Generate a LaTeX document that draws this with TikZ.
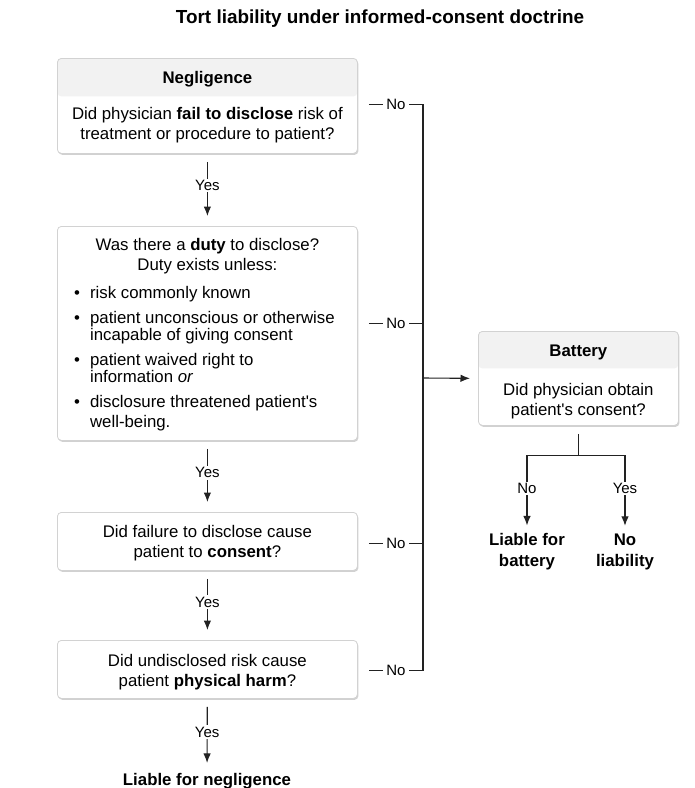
\documentclass[tikz,border=0pt]{standalone}
\usepackage{fontspec}
\setmainfont{Liberation Sans}
\usetikzlibrary{arrows.meta,calc,shadows}
\definecolor{linegray}{HTML}{222222}
\definecolor{edgegray}{HTML}{D2D2D2}
\definecolor{headgray}{HTML}{F2F2F2}
\tikzset{
card/.style={draw=edgegray, line width=0.8pt, fill=white, rounded corners=4pt,
  minimum width=300pt, inner sep=0pt,
  drop shadow={shadow xshift=1pt, shadow yshift=-1.5pt, opacity=0.18, fill=black}},
headcard/.style={card, path picture={
  \fill[headgray] (path picture bounding box.north west)
    rectangle ([yshift=-#1]path picture bounding box.north east);}},
qtext/.style={align=center, inner sep=0pt, font=\fontsize{16.8}{20}\selectfont},
htext/.style={inner sep=0pt, font=\fontsize{16.8}{20}\selectfont\bfseries},
result/.style={align=center, inner sep=0pt, font=\fontsize{16.8}{21}\selectfont\bfseries},
link/.style={draw=linegray, line width=1.1pt},
arrow/.style={link, -{Latex[length=9.5pt,width=7.5pt]}},
yes/.style={arrow, shorten <=8pt, shorten >=10pt},
lbl/.style={fill=white, inner xsep=3.5pt, inner ysep=1.5pt, font=\fontsize{15}{16}\selectfont}
}

\begin{document}
\begin{tikzpicture}[x=1pt,y=-1pt]
\useasboundingbox (0,0) rectangle (695,788);

\node[inner sep=0pt, font=\fontsize{18.9}{22}\selectfont\bfseries] (title) at (380,19)
  {Tort liability under informed-consent doctrine};

% negligence column
\node[headcard=38pt, minimum height=95pt, anchor=north west] (neg) at (57,58) {};
\node[htext] (negtitle) at ($(neg.north)+(0,21)$) {Negligence};
\node[qtext] (negq) at ($(neg.north)+(0,67)$)
  {Did physician \textbf{fail to disclose} risk of\\treatment or procedure to patient?};

\node[card, minimum height=214pt, anchor=north west] (duty) at (57,226) {};
\node[qtext] (dutyq) at ($(duty.north)+(0,30)$)
  {Was there a \textbf{duty} to disclose?\\Duty exists unless:};
\node[inner sep=0pt, anchor=base west, font=\fontsize{16.8}{17.5}\selectfont] (dutylist) at (74,298.5)
  {\begin{tabular}[t]{@{}l@{\hspace{10pt}}l@{}}
   \textbullet & risk commonly known\\[7pt]
   \textbullet & patient unconscious or otherwise\\
               & incapable of giving consent\\[7pt]
   \textbullet & patient waived right to\\
               & information \textit{or}\\[7.5pt]
   \textbullet & disclosure threatened patient\textquotesingle s\\[2pt]
               & well-being.
   \end{tabular}};

\node[card, minimum height=58pt, anchor=north west] (cause) at (57,512) {};
\node[qtext] (causeq) at ($(cause.north)+(0,31)$)
  {Did failure to disclose cause\\patient to \textbf{consent}?};

\node[card, minimum height=58pt, anchor=north west] (harm) at (57,640) {};
\node[qtext] (harmq) at ($(harm.north)+(0,32)$)
  {Did undisclosed risk cause\\patient \textbf{physical harm}?};

\node[result] (neglia) at (207,781) {Liable for negligence};

\draw[yes] (neg) -- node[lbl, pos=0.44] {Yes} (duty);
\draw[yes] (duty) -- node[lbl, pos=0.45] {Yes} (cause);
\draw[yes] (cause) -- node[lbl, pos=0.45] {Yes} (harm);
\draw[yes] (harm) -- node[lbl, pos=0.45] {Yes} (neglia);

% battery column
\node[headcard=37pt, minimum width=200pt, minimum height=94pt, anchor=north west] (bat) at (478,331) {};
\node[htext] (battitle) at ($(bat.north)+(0,21)$) {Battery};
\node[qtext] (batq) at ($(bat.north)+(0,70)$)
  {Did physician obtain\\patient\textquotesingle s consent?};

\node[result] (batlia) at (527,552) {Liable for\\battery};
\node[result] (nolia) at (625,552) {No\\liability};

% "No" branches into battery
\coordinate (join) at (423,378);
\draw[link] ($(neg.east)+(11,-1)$) -- node[lbl] {No} ($(neg.east -| join)+(0,-1)$)
  -- ($(harm.east -| join)+(0,1)$) -- node[lbl] {No} ($(harm.east)+(11,1)$);
\draw[link] ($(duty.east)+(11,-10)$) coordinate (d1) -- node[lbl] {No} (d1 -| join);
\draw[link] ($(cause.east)+(11,2)$) coordinate (c1) -- node[lbl] {No} (c1 -| join);
\draw[arrow, shorten >=8pt] (join) -- (bat.west);

\draw[link] ($(bat.south)+(0,8)$) -- ($(bat.south)+(0,30)$) coordinate (split);
\draw[arrow, shorten >=8pt] (split) -| node[lbl, pos=0.71] {No} (batlia);
\draw[arrow, shorten >=8pt] (split) -| node[lbl, pos=0.71] {Yes} (nolia);

\end{tikzpicture}
\end{document}
